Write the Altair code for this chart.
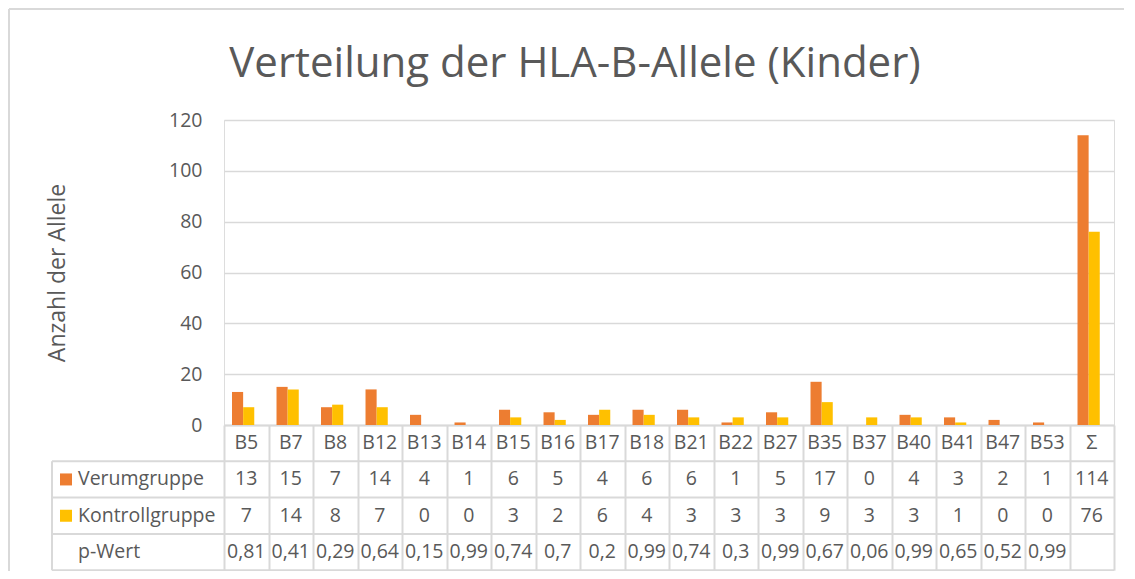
import altair as alt
import pandas as pd

categories = ["B5", "B7", "B8", "B12", "B13", "B14", "B15", "B16", "B17", "B18",
              "B21", "B22", "B27", "B35", "B37", "B40", "B41", "B47", "B53", "Σ"]
verum = [13, 15, 7, 14, 4, 1, 6, 5, 4, 6, 6, 1, 5, 17, 0, 4, 3, 2, 1, 114]
kontroll = [7, 14, 8, 7, 0, 0, 3, 2, 6, 4, 3, 3, 3, 9, 3, 3, 1, 0, 0, 76]
p_wert = [0.81, 0.41, 0.29, 0.64, 0.15, 0.99, 0.74, 0.7, 0.2, 0.99, 0.74, 0.3,
          0.99, 0.67, 0.06, 0.99, 0.65, 0.52, 0.99, None]
groups = ["Verumgruppe", "Kontrollgruppe"]
colors = ["#ED7D31", "#FFC000"]
y_ticks = [0, 20, 40, 60, 80, 100, 120]

W, H = 890, 305
ROW = 36.3
TXT = "#595959"
LINE = "#d9d9d9"
FONT = "Open Sans"
FS = 19.5


def fmt_p(p):
    return "" if p is None else str(p).replace(".", ",")


bars_df = pd.DataFrame({
    "Kategorie": categories * 2,
    "Gruppe": [groups[0]] * len(categories) + [groups[1]] * len(categories),
    "Anzahl": verum + kontroll,
})
table_df = pd.DataFrame({
    "Kategorie": categories,
    "Verum": [str(v) for v in verum],
    "Kontroll": [str(v) for v in kontroll],
    "p": [fmt_p(p) for p in p_wert],
})

x_enc = alt.X(
    "Kategorie:N", sort=categories,
    scale=alt.Scale(paddingInner=0, paddingOuter=0),
    axis=alt.Axis(title=None, labels=False, ticks=True, tickBand="extent",
                  tickSize=4 * ROW, tickColor=LINE, tickWidth=2,
                  domainColor=LINE, domainWidth=2, grid=False),
)

bars = alt.Chart(bars_df).mark_bar().encode(
    x=x_enc,
    xOffset=alt.XOffset("Gruppe:N", sort=groups,
                        scale=alt.Scale(paddingInner=0, paddingOuter=1, align=0.36)),
    y=alt.Y("Anzahl:Q", scale=alt.Scale(domain=[0, 120], nice=False),
            axis=alt.Axis(values=y_ticks, title="Anzahl der Allele", grid=True,
                          gridColor=LINE, gridWidth=1.5, domain=False, ticks=False,
                          labelPadding=22, labelFontSize=FS, labelColor=TXT,
                          labelFont=FONT, titleFont=FONT, titleFontSize=23,
                          titleFontWeight="normal", titleColor=TXT,
                          titleX=-167, titleY=H / 2, titleAngle=270,
                          titleBaseline="middle", titleAlign="center")),
    color=alt.Color("Gruppe:N", scale=alt.Scale(domain=groups, range=colors), legend=None),
)

layers = [bars]

# table text rows
for i, field in enumerate(["Kategorie", "Verum", "Kontroll", "p"]):
    layers.append(
        alt.Chart(table_df).mark_text(font=FONT, fontSize=FS, color=TXT, baseline="middle").encode(
            x=alt.X("Kategorie:N", sort=categories),
            y=alt.value(H + ROW * (i + 0.5)),
            text=alt.Text(f"{field}:N"),
        )
    )

# row labels
row_labels = ["Verumgruppe", "Kontrollgruppe", "p-Wert"]
for i, lab in enumerate(row_labels):
    layers.append(
        alt.Chart(alt.Data(values=[{"t": lab}])).mark_text(
            font=FONT, fontSize=FS, color=TXT, align="left", baseline="middle").encode(
            x=alt.value(-146), y=alt.value(H + ROW * (i + 1.5)), text="t:N")
    )

# legend squares
for i, g in enumerate(groups):
    layers.append(
        alt.Chart(alt.Data(values=[{"g": g}])).mark_point(
            shape="square", filled=True, size=144, opacity=1).encode(
            x=alt.value(-158), y=alt.value(H + ROW * (i + 1.5)),
            color=alt.Color("g:N", scale=alt.Scale(domain=groups, range=colors), legend=None))
    )

# table horizontal lines
dummy = alt.Data(values=[{}])
for k in range(1, 5):
    layers.append(
        alt.Chart(dummy).mark_rule(color=LINE, strokeWidth=2).encode(
            x=alt.value(-172), x2=alt.value(W), y=alt.value(H + ROW * k))
    )
# table left border
layers.append(
    alt.Chart(dummy).mark_rule(color=LINE, strokeWidth=2).encode(
        x=alt.value(-172), y=alt.value(H + ROW), y2=alt.value(H + 4 * ROW))
)
# outer frame (left and top)
layers.append(
    alt.Chart(dummy).mark_rule(color=LINE, strokeWidth=2).encode(
        x=alt.value(-215), y=alt.value(-111), y2=alt.value(H + 150))
)
layers.append(
    alt.Chart(dummy).mark_rule(color=LINE, strokeWidth=2).encode(
        x=alt.value(-215), x2=alt.value(W + 20), y=alt.value(-111))
)

chart = alt.layer(*layers).properties(
    width=W, height=H,
    title=alt.TitleParams("Verteilung der HLA-B-Allele (Kinder)", fontSize=42, font=FONT,
                          color=TXT, fontWeight="normal", anchor="middle", dx=-94,
                          baseline="alphabetic", offset=0, dy=111),
    autosize=alt.AutoSizeParams(type="none"),
    padding={"left": 216, "top": 112, "right": 10, "bottom": 146},
).configure_view(strokeWidth=0).configure(background="white")

chart.save("out.html", embed_options={"renderer": "svg", "actions": False})
